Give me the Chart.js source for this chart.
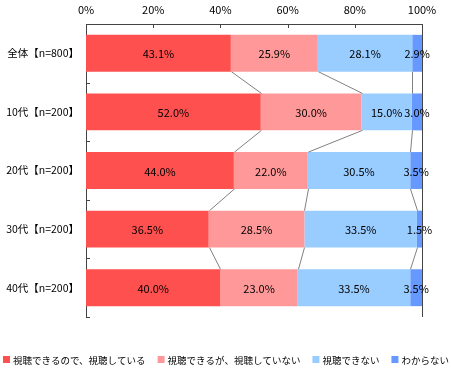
<!DOCTYPE html>
<html>
<head>
<meta charset="utf-8">
<script src="https://cdn.jsdelivr.net/npm/chart.js@4"></script>
<style>
  html, body { margin: 0; padding: 0; background: #fff; }
  #wrap { width: 451px; height: 371px; }
</style>
</head>
<body>
<div id="wrap"><canvas id="chart" width="451" height="371"></canvas></div>
<script>
/* 帯グラフ: 視聴状況 (年代別) */

const categories = ['全体【n=800】', '10代【n=200】', '20代【n=200】', '30代【n=200】', '40代【n=200】'];
const seriesNames = ['視聴できるので、視聴している', '視聴できるが、視聴していない', '視聴できない', 'わからない'];
const watching    = [43.1, 52.0, 44.0, 36.5, 40.0];
const notWatching = [25.9, 30.0, 22.0, 28.5, 23.0];
const cannot      = [28.1, 15.0, 30.5, 33.5, 33.5];
const unknown     = [2.9, 3.0, 3.5, 1.5, 3.5];
const xTicks = [0, 20, 40, 60, 80, 100];

const COLORS = ['#ff5050', '#ff9999', '#99ccff', '#6699ff'];
const FONT = '"Noto Sans CJK JP", "Noto Sans", sans-serif';

const seriesValues = [watching, notWatching, cannot, unknown];

/* 区切り線・目盛・数値ラベル・凡例 */
const decorPlugin = {
  id: 'decor',
  afterDatasetsDraw(chart) {
    const { ctx, chartArea, scales } = chart;
    const x = scales.x, y = scales.y;
    const metas = chart.data.datasets.map((d, i) => chart.getDatasetMeta(i));

    ctx.save();
    // 段差をつなぐ線
    ctx.strokeStyle = '#808080';
    ctx.lineWidth = 1;
    for (let i = 0; i < categories.length - 1; i++) {
      let cumA = 0, cumB = 0;
      for (let k = 0; k < seriesValues.length - 1; k++) {
        cumA += seriesValues[k][i];
        cumB += seriesValues[k][i + 1];
        const barA = metas[k].data[i];
        const barB = metas[k].data[i + 1];
        ctx.beginPath();
        ctx.moveTo(Math.round(x.getPixelForValue(cumA)) + 0.5, barA.y + barA.height / 2);
        ctx.lineTo(Math.round(x.getPixelForValue(cumB)) + 0.5, barB.y - barB.height / 2);
        ctx.stroke();
      }
    }

    // 枠線(右)と内向き目盛
    ctx.strokeStyle = '#444';
    ctx.beginPath();
    ctx.moveTo(Math.round(chartArea.right) + 0.5, chartArea.top);
    ctx.lineTo(Math.round(chartArea.right) + 0.5, chartArea.bottom);
    xTicks.forEach(v => {
      const px = Math.round(x.getPixelForValue(v)) + 0.5;
      ctx.moveTo(px, chartArea.top);
      ctx.lineTo(px, chartArea.top + 4);
    });
    for (let i = 0; i <= categories.length; i++) {
      const py = Math.round(y.getPixelForValue(i - 0.5)) + 0.5;
      ctx.moveTo(chartArea.left, py);
      ctx.lineTo(chartArea.left + 4, py);
    }
    ctx.stroke();

    // 数値ラベル
    ctx.fillStyle = '#000';
    ctx.font = '11px ' + FONT;
    ctx.textAlign = 'center';
    ctx.textBaseline = 'middle';
    metas.forEach((meta, k) => {
      meta.data.forEach((bar, i) => {
        const cx = (bar.x + bar.base) / 2;
        ctx.fillText(seriesValues[k][i].toFixed(1) + '%', cx, bar.y + 1);
      });
    });

    // 凡例 (1行)
    ctx.font = '9.5px ' + FONT;
    ctx.textAlign = 'left';
    let lx = 3;
    const ly = 359;
    seriesNames.forEach((name, k) => {
      ctx.fillStyle = COLORS[k];
      ctx.fillRect(lx, ly - 3, 7, 7);
      ctx.fillStyle = '#000';
      ctx.fillText(name, lx + 10, ly + 1);
      lx += 10 + ctx.measureText(name).width + 12;
    });
    ctx.restore();
  }
};

new Chart(document.getElementById('chart'), {
  type: 'bar',
  data: {
    labels: categories,
    datasets: seriesNames.map((name, k) => ({
      label: name,
      data: seriesValues[k],
      backgroundColor: COLORS[k],
      borderWidth: 0,
      categoryPercentage: 1,
      barPercentage: 0.63,
    })),
  },
  options: {
    indexAxis: 'y',
    responsive: false,
    animation: false,
    layout: { padding: { left: 0, right: 29, top: 0, bottom: 54 } },
    plugins: {
      legend: { display: false },
      tooltip: { enabled: false },
    },
    scales: {
      x: {
        position: 'top',
        stacked: true,
        min: 0,
        max: 100,
        grid: { display: false, drawTicks: false },
        border: { display: true, color: '#444' },
        afterBuildTicks: s => { s.ticks = xTicks.map(v => ({ value: v })); },
        afterFit: s => { s.height = 24; },
        ticks: {
          padding: 8,
          color: '#000',
          font: { size: 11, family: FONT },
          callback: v => v + '%',
        },
      },
      y: {
        stacked: true,
        grid: { display: false, drawTicks: false },
        border: { display: true, color: '#444' },
        afterFit: s => { s.width = 86; },
        ticks: {
          padding: 7,
          color: '#000',
          font: { size: 10.5, family: FONT },
        },
      },
    },
  },
  plugins: [decorPlugin],
});
</script>
</body>
</html>
